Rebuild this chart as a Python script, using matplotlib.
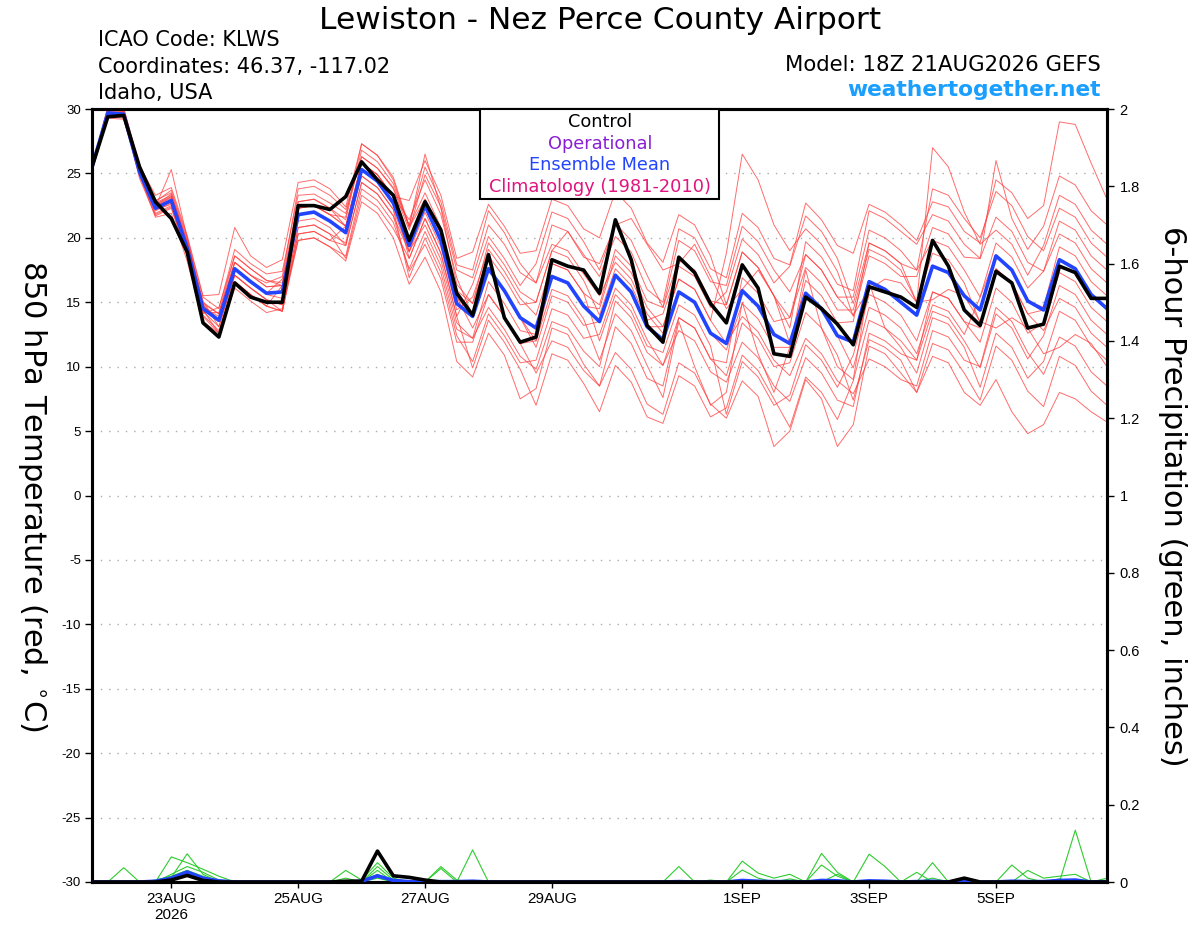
import numpy as np
import pandas as pd
import matplotlib
matplotlib.use("Agg")
import matplotlib.pyplot as plt
from matplotlib.patches import Rectangle

plt.rcParams['font.family'] = ['DejaVu Sans']
plt.rcParams['axes.unicode_minus'] = False
TICKFONT = 'Liberation Sans'

# 6-hourly GEFS run, 18Z 21 AUG 2026 out to 384 h
times = pd.date_range('2026-08-21 18:00', periods=65, freq='6h')

# 850 hPa temperature, control run (black)
control = [25.5,
    29.4, 29.5, 25.5, 22.8, 21.5, 18.9, 13.4, 12.3,
    16.5, 15.4, 15.0, 15.0, 22.5, 22.5, 22.2, 23.2,
    25.9, 24.5, 23.3, 19.8, 22.8, 20.6, 15.7, 14.0,
    18.7, 13.8, 11.9, 12.3, 18.3, 17.8, 17.5, 15.7,
    21.4, 18.3, 13.2, 11.9, 18.5, 17.3, 14.9, 13.4,
    17.9, 16.1, 11.0, 10.8, 15.4, 14.5, 13.3, 11.7,
    16.2, 15.8, 15.4, 14.6, 19.8, 17.8, 14.4, 13.2,
    17.4, 16.5, 13.0, 13.3, 17.8, 17.3, 15.3, 15.3]

# ensemble mean (blue)
ens_mean = [25.5,
    29.7, 29.6, 25.1, 22.3, 22.9, 19.2, 14.5, 13.6,
    17.6, 16.6, 15.7, 15.8, 21.8, 22.0, 21.3, 20.4,
    25.3, 24.4, 22.7, 19.4, 22.5, 19.8, 14.9, 13.9,
    17.6, 15.9, 13.8, 13.0, 17.0, 16.5, 14.7, 13.5,
    17.1, 15.8, 13.1, 12.1, 15.8, 15.0, 12.6, 11.8,
    15.9, 14.7, 12.5, 11.8, 15.7, 14.5, 12.4, 11.9,
    16.6, 16.0, 15.0, 14.0, 17.8, 17.3, 15.5, 14.4,
    18.6, 17.5, 15.1, 14.4, 18.3, 17.6, 15.6, 14.5]

# ensemble members (red)
mem01 = [25.5,
    30.1, 30.0, 25.5, 22.8, 23.7, 20.0, 15.4, 14.5,
    19.1, 18.0, 17.2, 17.4, 23.3, 23.4, 22.7, 21.9,
    26.3, 25.4, 23.8, 20.6, 24.9, 22.4, 17.5, 16.9,
    21.0, 19.5, 17.3, 16.5, 21.0, 20.5, 18.7, 17.0,
    20.1, 18.9, 16.0, 15.0, 20.7, 20.0, 17.6, 16.9,
    21.9, 20.8, 18.4, 17.9, 22.7, 21.4, 19.4, 18.8,
    22.6, 22.0, 21.0, 19.8, 22.8, 22.4, 20.5, 19.6,
    24.5, 23.5, 21.5, 22.5, 29.0, 28.8, 25.8, 23.0]
mem02 = [25.5,
    29.4, 29.3, 24.8, 21.8, 22.4, 18.7, 14.0, 12.8,
    16.6, 15.6, 14.7, 14.3, 19.8, 20.0, 19.3, 18.2,
    22.8, 21.9, 20.0, 16.4, 18.5, 15.8, 10.4, 9.2,
    12.6, 10.9, 7.5, 8.3, 13.0, 12.5, 10.2, 8.5,
    11.1, 9.8, 7.1, 6.3, 10.3, 9.5, 7.1, 6.0,
    8.9, 7.7, 3.8, 5.0, 9.0, 7.5, 3.8, 5.5,
    11.6, 11.0, 9.5, 8.0, 10.8, 10.3, 8.0, 7.0,
    9.0, 6.5, 4.8, 5.5, 8.0, 7.5, 6.5, 5.7]
mem03 = [25.5,
    29.9, 29.8, 25.3, 22.5, 23.4, 19.7, 15.0, 14.1,
    18.1, 17.1, 16.2, 16.3, 22.8, 23.0, 22.3, 21.4,
    26.8, 25.9, 24.2, 20.9, 23.5, 20.8, 15.9, 14.9,
    19.6, 17.9, 15.8, 15.0, 19.0, 20.5, 18.5, 18.0,
    21.0, 21.5, 19.5, 17.5, 18.0, 19.5, 17.0, 14.5,
    16.0, 17.5, 15.5, 13.0, 19.7, 18.5, 16.4, 15.9,
    22.1, 21.5, 20.5, 19.5, 21.8, 21.3, 19.5, 18.4,
    21.6, 20.5, 18.1, 17.4, 20.3, 19.6, 17.6, 16.5]
mem04 = [25.5,
    29.5, 29.4, 24.9, 21.6, 21.9, 18.2, 13.5, 12.6,
    16.1, 15.1, 14.2, 14.5, 20.8, 21.0, 20.3, 19.6,
    25.3, 24.4, 22.7, 19.0, 21.0, 18.3, 13.4, 12.2,
    14.6, 12.9, 10.8, 9.8, 13.5, 13.0, 11.2, 10.0,
    15.1, 13.8, 11.1, 10.1, 12.8, 12.0, 9.6, 8.8,
    11.9, 10.7, 8.5, 7.3, 10.7, 9.5, 7.4, 6.9,
    12.6, 12.0, 11.0, 10.5, 15.8, 15.3, 13.5, 13.0,
    17.6, 16.5, 14.1, 12.8, 15.3, 14.6, 12.6, 11.5]
mem05 = [25.5,
    30.0, 29.9, 25.4, 22.4, 25.3, 20.0, 14.6, 13.9,
    18.1, 17.1, 16.5, 17.0, 23.8, 24.0, 23.3, 22.2,
    26.3, 25.4, 23.9, 21.0, 25.5, 22.8, 17.9, 17.5,
    22.1, 20.4, 18.0, 16.5, 19.5, 19.0, 17.2, 15.5,
    18.1, 16.8, 14.1, 12.6, 15.8, 15.0, 12.6, 11.3,
    14.9, 13.7, 11.5, 11.5, 16.7, 15.5, 13.4, 13.5,
    19.6, 19.0, 18.0, 17.5, 23.8, 23.3, 21.5, 20.0,
    23.6, 22.5, 20.1, 19.0, 22.3, 21.6, 19.6, 18.5]
mem06 = [25.5,
    29.6, 29.5, 25.0, 22.4, 23.2, 19.5, 14.8, 13.5,
    17.1, 16.1, 15.2, 14.8, 19.8, 20.0, 19.3, 18.6,
    23.8, 22.9, 21.2, 17.6, 20.5, 17.8, 12.9, 12.2,
    16.6, 14.9, 12.8, 12.5, 18.0, 17.5, 15.7, 14.8,
    19.1, 17.8, 15.1, 14.6, 19.8, 19.0, 16.6, 16.3,
    20.9, 19.7, 17.5, 15.8, 18.7, 17.5, 15.4, 14.0,
    16.0, 16.8, 16.5, 15.0, 15.2, 16.0, 15.5, 13.5,
    13.0, 13.8, 13.0, 11.0, 11.5, 12.5, 11.8, 10.0]
mem07 = [25.5,
    29.8, 29.7, 25.2, 22.2, 22.6, 18.9, 14.2, 14.2,
    18.6, 17.6, 16.7, 16.5, 22.3, 22.5, 21.8, 21.6,
    27.3, 26.4, 24.5, 20.8, 23.0, 20.3, 15.4, 13.0,
    15.6, 13.9, 11.8, 9.5, 12.0, 11.5, 9.7, 8.5,
    13.1, 11.8, 9.1, 8.5, 13.8, 13.0, 10.6, 10.3,
    16.9, 15.7, 13.5, 13.8, 18.7, 17.5, 15.4, 15.4,
    20.6, 20.0, 19.0, 17.5, 19.8, 19.3, 17.5, 15.4,
    18.6, 17.5, 15.1, 14.6, 19.3, 18.6, 16.6, 15.5]
mem08 = [25.5,
    29.3, 29.2, 24.9, 22.5, 23.1, 19.4, 14.7, 13.6,
    17.6, 16.6, 15.6, 15.3, 21.3, 21.5, 20.8, 19.4,
    24.3, 23.4, 21.7, 17.4, 19.5, 16.8, 11.9, 11.9,
    15.6, 13.9, 11.8, 12.0, 17.0, 16.5, 14.7, 14.5,
    18.6, 17.3, 14.6, 13.1, 16.8, 16.0, 13.6, 11.8,
    13.9, 12.7, 10.5, 9.3, 12.2, 11.0, 8.9, 7.9,
    10.6, 10.0, 9.0, 8.5, 12.8, 12.3, 10.5, 10.0,
    14.6, 13.5, 11.1, 9.4, 12.3, 11.6, 9.6, 8.5]
mem09 = [25.5,
    30.2, 30.1, 25.6, 23.3, 23.9, 20.2, 15.5, 15.6,
    20.8, 18.6, 17.7, 18.3, 24.3, 24.5, 23.8, 22.4,
    27.3, 26.4, 24.7, 20.9, 26.5, 22.3, 16.4, 14.9,
    18.6, 16.9, 14.8, 15.0, 19.0, 18.5, 16.7, 14.0,
    17.6, 16.3, 13.6, 14.1, 17.8, 17.0, 14.6, 15.8,
    19.9, 18.7, 16.5, 17.8, 21.7, 20.5, 18.4, 14.9,
    19.6, 19.0, 18.0, 15.0, 27.0, 25.5, 22.0, 19.5,
    20.6, 19.5, 17.1, 19.4, 23.3, 22.6, 20.6, 19.5]
mem10 = [25.5,
    29.7, 29.6, 24.6, 21.7, 22.3, 18.6, 13.9, 12.6,
    16.6, 15.6, 14.7, 14.3, 20.3, 20.5, 19.8, 19.4,
    24.3, 23.4, 21.7, 18.9, 23.0, 20.3, 15.4, 13.9,
    17.6, 15.9, 13.8, 12.0, 16.0, 15.5, 13.7, 10.5,
    14.1, 12.8, 10.1, 7.6, 13.5, 10.0, 7.0, 8.0,
    15.0, 11.0, 8.0, 11.5, 17.5, 13.0, 10.0, 9.0,
    16.5, 13.0, 11.5, 9.5, 13.8, 13.3, 11.5, 8.4,
    12.6, 11.5, 9.1, 10.4, 14.3, 13.6, 11.6, 10.5]
mem11 = [25.5,
    29.9, 29.8, 25.3, 22.7, 23.3, 19.6, 14.9, 14.1,
    18.1, 17.1, 16.2, 16.3, 22.3, 22.5, 21.8, 20.9,
    25.8, 24.9, 23.2, 18.4, 21.5, 18.8, 13.9, 16.4,
    20.1, 18.4, 16.3, 18.0, 22.0, 21.5, 19.7, 17.5,
    21.1, 19.8, 17.1, 14.6, 18.3, 17.5, 15.1, 14.8,
    18.9, 17.7, 15.5, 11.8, 15.7, 14.5, 12.4, 9.9,
    14.6, 14.0, 13.0, 11.0, 14.8, 14.3, 12.5, 15.4,
    19.6, 18.5, 16.1, 17.4, 21.3, 20.6, 18.6, 17.5]
mem12 = [25.5,
    29.5, 29.4, 24.9, 22.1, 22.7, 19.0, 14.3, 13.1,
    17.1, 16.1, 15.2, 14.8, 20.8, 21.0, 20.3, 18.4,
    23.3, 22.4, 20.7, 18.4, 21.5, 18.8, 13.9, 9.9,
    13.6, 11.9, 9.8, 7.0, 11.0, 10.5, 8.7, 6.5,
    10.1, 8.8, 6.1, 5.6, 9.3, 8.5, 6.1, 6.8,
    10.9, 9.7, 7.5, 5.3, 9.2, 8.0, 5.9, 8.9,
    13.6, 13.0, 12.0, 10.5, 14.3, 13.8, 12.0, 9.9,
    14.1, 13.0, 10.6, 12.4, 16.3, 15.6, 13.6, 12.5]
mem13 = [25.5,
    30.0, 29.9, 25.4, 22.6, 23.2, 19.5, 14.8, 13.6,
    17.6, 16.6, 15.7, 16.8, 22.8, 23.0, 22.3, 20.9,
    25.8, 24.9, 23.2, 21.4, 24.5, 21.8, 16.9, 13.9,
    17.6, 15.9, 13.8, 11.5, 15.5, 15.0, 13.2, 13.5,
    17.1, 15.8, 13.1, 13.1, 16.8, 16.0, 13.6, 18.8,
    26.5, 24.5, 21.0, 19.0, 20.7, 19.5, 17.4, 13.9,
    18.6, 18.0, 17.0, 17.0, 20.8, 20.3, 18.5, 18.4,
    26.0, 21.5, 19.1, 20.9, 24.8, 24.1, 22.1, 21.0]
mem14 = [25.5,
    29.6, 29.5, 25.0, 21.9, 22.5, 18.8, 14.1, 14.6,
    18.6, 17.6, 16.7, 16.3, 21.8, 22.0, 21.3, 20.4,
    24.8, 23.9, 22.2, 18.9, 22.0, 19.3, 14.4, 15.4,
    19.1, 17.4, 15.3, 14.0, 18.0, 17.5, 15.7, 12.0,
    15.6, 14.3, 11.6, 11.1, 14.8, 14.0, 11.6, 6.3,
    10.4, 9.2, 7.0, 7.8, 11.7, 10.5, 8.4, 10.9,
    15.6, 15.0, 14.0, 12.0, 15.8, 15.3, 13.5, 11.9,
    16.1, 15.0, 12.6, 13.4, 17.3, 16.6, 14.6, 13.5]
mem15 = [25.5,
    29.7, 29.6, 25.1, 22.9, 23.5, 19.8, 15.1, 13.1,
    17.1, 16.1, 15.2, 14.3, 20.3, 20.5, 19.8, 20.9,
    25.8, 24.9, 23.2, 22.9, 26.0, 23.3, 18.4, 18.9,
    22.6, 20.9, 18.8, 19.0, 23.0, 22.5, 20.7, 20.0,
    23.6, 22.3, 19.6, 18.1, 21.8, 21.0, 18.6, 14.8,
    18.9, 17.7, 15.5, 13.8, 17.7, 16.5, 14.4, 14.4,
    19.1, 18.5, 17.5, 15.0, 18.8, 18.3, 16.5, 13.4,
    17.6, 16.5, 14.1, 14.4, 18.3, 17.6, 15.6, 14.5]
mem16 = [25.5,
    29.8, 29.7, 25.2, 22.2, 22.8, 19.1, 14.4, 12.6,
    16.6, 15.6, 14.7, 16.3, 22.3, 22.5, 21.8, 20.9,
    24.8, 23.9, 22.2, 16.9, 20.0, 17.3, 12.4, 10.4,
    14.1, 12.4, 10.3, 10.5, 14.5, 14.0, 12.2, 12.5,
    16.1, 14.8, 12.1, 10.1, 13.8, 13.0, 10.6, 9.3,
    13.4, 12.2, 10.0, 10.3, 14.2, 13.0, 10.9, 7.4,
    12.1, 11.5, 10.5, 8.0, 11.8, 11.3, 9.5, 7.4,
    11.6, 10.5, 8.1, 6.9, 10.8, 10.1, 8.1, 7.0]
members = [mem01, mem02, mem03, mem04, mem05, mem06, mem07, mem08,
           mem09, mem10, mem11, mem12, mem13, mem14, mem15, mem16]

# 6-hour precipitation (inches)
precip_control = [0,
    0, 0, 0, 0, 0.005, 0.017, 0.004, 0,
    0, 0, 0, 0, 0, 0, 0, 0.002,
    0.002, 0.08, 0.016, 0.012, 0.005, 0, 0, 0,
    0, 0, 0, 0, 0, 0, 0, 0,
    0, 0, 0, 0, 0, 0, 0, 0,
    0, 0, 0, 0, 0, 0, 0, 0,
    0, 0, 0, 0, 0, 0, 0.01, 0,
    0, 0, 0, 0, 0, 0, 0, 0]
precip_mean = [0,
    0, 0, 0, 0.002, 0.01, 0.026, 0.01, 0.003,
    0, 0, 0, 0, 0, 0, 0, 0,
    0.002, 0.016, 0.004, 0.001, 0, 0.001, 0.001, 0.002,
    0, 0, 0, 0, 0, 0, 0, 0,
    0, 0, 0, 0, 0.001, 0, 0, 0,
    0.004, 0.002, 0.001, 0.001, 0, 0.004, 0.003, 0,
    0.003, 0.002, 0, 0.001, 0.002, 0, 0.001, 0,
    0, 0.002, 0.001, 0.001, 0.004, 0.005, 0, 0.001]
pmem1 = [0,
    0, 0.037, 0, 0, 0.012, 0.073, 0.02, 0,
    0, 0, 0, 0, 0, 0, 0, 0.03,
    0.005, 0.05, 0.01, 0, 0, 0, 0, 0,
    0, 0, 0, 0, 0, 0, 0, 0,
    0, 0, 0, 0, 0, 0, 0, 0,
    0.054, 0.023, 0.01, 0.02, 0, 0.074, 0.025, 0,
    0.072, 0.04, 0, 0, 0.05, 0, 0, 0,
    0, 0.044, 0.01, 0, 0, 0.134, 0, 0]
pmem2 = [0,
    0, 0, 0, 0, 0.065, 0.05, 0.033, 0.015,
    0, 0, 0, 0, 0, 0, 0, 0,
    0, 0.04, 0.005, 0, 0, 0.04, 0.005, 0,
    0, 0, 0, 0, 0, 0, 0, 0,
    0, 0, 0, 0, 0.04, 0, 0, 0,
    0.031, 0.01, 0, 0, 0, 0.044, 0.015, 0,
    0, 0, 0, 0.025, 0, 0, 0, 0,
    0, 0, 0.03, 0.01, 0.015, 0.02, 0, 0.01]
pmem3 = [0,
    0, 0, 0, 0, 0.02, 0.04, 0.025, 0.005,
    0, 0, 0, 0, 0, 0, 0, 0.01,
    0, 0.03, 0, 0, 0, 0.035, 0, 0.083,
    0, 0, 0, 0, 0, 0, 0, 0,
    0, 0, 0, 0, 0, 0, 0.005, 0,
    0, 0, 0, 0, 0, 0, 0.02, 0,
    0, 0, 0, 0, 0, 0, 0.005, 0,
    0, 0, 0, 0, 0.008, 0, 0, 0]
pmem4 = [0,
    0, 0, 0, 0.005, 0.015, 0.03, 0.015, 0,
    0, 0, 0, 0, 0, 0, 0, 0,
    0, 0.02, 0, 0, 0, 0, 0, 0,
    0, 0, 0, 0, 0, 0, 0, 0,
    0, 0, 0, 0, 0, 0, 0, 0,
    0, 0, 0, 0.008, 0, 0, 0, 0,
    0, 0, 0, 0, 0.01, 0, 0, 0,
    0, 0, 0, 0, 0, 0, 0, 0]
pmem5 = [0,
    0, 0, 0, 0, 0.008, 0.02, 0.01, 0,
    0, 0, 0, 0, 0, 0, 0.003, 0,
    0, 0.01, 0, 0, 0, 0, 0, 0,
    0, 0, 0, 0, 0, 0, 0, 0,
    0, 0, 0, 0, 0, 0, 0, 0,
    0, 0, 0, 0, 0, 0, 0, 0,
    0, 0, 0, 0, 0, 0, 0, 0,
    0, 0, 0, 0, 0, 0, 0, 0]
precip_members = [pmem1, pmem2, pmem3, pmem4, pmem5]

tick_days = ['2026-08-23', '2026-08-25', '2026-08-27', '2026-08-29',
             '2026-09-01', '2026-09-03', '2026-09-05']
tick_labels = ['23AUG\n2026', '25AUG', '27AUG', '29AUG', '1SEP', '3SEP', '5SEP']

W, H = 1200, 927
fig = plt.figure(figsize=(W / 100, H / 100), dpi=100)
ax = fig.add_axes([92 / W, 1 - 882 / H, (1107 - 92) / W, (882 - 109) / H])

for m in members:
    ax.plot(times, m, color='#ff3b3b', lw=0.7, alpha=0.75, zorder=2)
ax.plot(times, ens_mean, color='#2244ff', lw=2.6, zorder=4)
ax.plot(times, control, color='black', lw=2.6, zorder=5)

ax.set_xlim(times[0], times[-1])
ax.set_ylim(-30, 30)
ax.set_yticks(np.arange(-30, 31, 5))
for v in np.arange(-25, 30, 5):
    ax.axhline(v, color='#aaaaaa', lw=1.0, ls=(0, (1, 5)), zorder=1)
ax.tick_params(axis='y', direction='out', length=5, width=1, labelsize=9.5, pad=3,
               labelfontfamily=TICKFONT)

ax.set_xticks(pd.to_datetime(tick_days))
ax.set_xticklabels(tick_labels)
ax.tick_params(axis='x', direction='out', length=4, width=1, labelsize=11, pad=3,
               labelfontfamily=TICKFONT)
for lab in ax.get_xticklabels():
    lab.set_linespacing(1.2)
for s in ax.spines.values():
    s.set_linewidth(2.2)

ax2 = ax.twinx()
ax2.set_ylim(0, 2)
for p in precip_members:
    ax2.plot(times, p, color='#2ecc2e', lw=0.8, zorder=2)
ax2.plot(times, precip_mean, color='#2244ff', lw=2.6, zorder=3)
ax2.plot(times, precip_control, color='black', lw=2.6, zorder=4)
ax2.set_yticks(np.arange(0, 2.01, 0.2))
ax2.set_yticklabels(['0', '0.2', '0.4', '0.6', '0.8', '1', '1.2', '1.4', '1.6', '1.8', '2'])
ax2.tick_params(axis='y', direction='out', length=5, width=1, labelsize=10.5, pad=4,
                labelfontfamily=TICKFONT)
ax2.set_xlim(times[0], times[-1])
for s in ax2.spines.values():
    s.set_linewidth(2.2)


def fy(y):
    return 1 - y / H


fig.text(600 / W, fy(29), 'Lewiston - Nez Perce County Airport', ha='center',
         va='baseline', fontsize=22.5)
fig.text(98 / W, fy(46), 'ICAO Code: KLWS', fontsize=15, va='baseline')
fig.text(98 / W, fy(73), 'Coordinates: 46.37, -117.02', fontsize=15, va='baseline')
fig.text(98 / W, fy(99), 'Idaho, USA', fontsize=15, va='baseline')
fig.text(1101 / W, fy(71), 'Model: 18Z 21AUG2026 GEFS', fontsize=15.3,
         ha='right', va='baseline')
fig.text(1101 / W, fy(96), 'weathertogether.net', fontsize=15.7, ha='right',
         va='baseline', color='#1a9fff', fontweight='bold')

# legend box
fig.patches.append(Rectangle((480 / W, fy(199)), (719 - 480) / W, (199 - 109) / H,
                             transform=fig.transFigure, fill=True, facecolor='white',
                             edgecolor='black', lw=1.5, zorder=10))
leg = [('Control', 'black'), ('Operational', '#8a1ed6'),
       ('Ensemble Mean', '#2244ff'), ('Climatology (1981-2010)', '#e0157f')]
for k, (txt, col) in enumerate(leg):
    fig.text(600 / W, fy(127 + 21.7 * k), txt, ha='center', va='baseline',
             fontsize=12.8, color=col, zorder=11)

fig.text(32 / W, fy(496), r'850 hPa Temperature (red, $^{\circ}$C)', rotation=270,
         ha='center', va='center', fontsize=22)
fig.text(1173 / W, fy(496), '6-hour Precipitation (green, inches)', rotation=270,
         ha='center', va='center', fontsize=22)

fig.savefig('out.png', dpi=100)
